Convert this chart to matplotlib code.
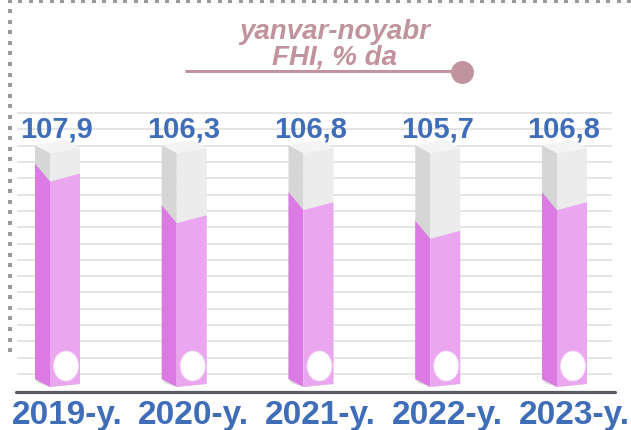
import matplotlib
matplotlib.use("Agg")
import matplotlib.pyplot as plt
from matplotlib.patches import Polygon, Ellipse
import numpy as np

# data
years = ["2019-y.", "2020-y.", "2021-y.", "2022-y.", "2023-y."]
values = [107.9, 106.3, 106.8, 105.7, 106.8]
value_labels = ["107,9", "106,3", "106,8", "105,7", "106,8"]
title_lines = ["yanvar-noyabr", "FHI, % da"]

BASE = 100.0   # bottom of the glass boxes
TOP = 109.0    # top of the glass boxes

W, H = 631, 431
fig = plt.figure(figsize=(W / 100, H / 100), dpi=100)
ax = fig.add_axes([0, 0, 1, 1])
ax.set_xlim(-0.5128, 4.4655)
ax.set_ylim(98.346, 114.923)
ax.axis("off")

# size of one pixel in data units
px = (4.4655 + 0.5128) / W
py = (114.923 - 98.346) / H

blue = "#3F6DB8"
rose = "#C0939E"

# grid lines
grid_y = BASE + 13 * py + np.arange(17) * 16.3 * py
ax.hlines(grid_y, -48 * px, 547 * px, color="#E2E2E2", lw=1.3, zorder=1)

# base line
ax.hlines(BASE - 5 * py, -49 * px, 550 * px, color="#5A5A63", lw=2.3, zorder=2,
          capstyle="round")


def box(i, v):
    xl, xf, xr = i - 30 * px, i - 15 * px, i + 15 * px
    polys = [
        # shadow under the left side
        ([(xl, BASE + 8 * py), (xf, BASE), (xf + 4 * px, BASE - 1 * py),
          (xl + 3 * px, BASE + 4 * py)], "#DADADA"),
        # left side, gray then pink
        ([(xl, BASE + 8 * py), (xf, BASE), (xf, TOP), (xl, TOP + 8 * py)], "#D6D6D6"),
        ([(xl, BASE + 8 * py), (xf, BASE), (xf, v), (xl, v + 18 * py)], "#DB7AE3"),
        # front, gray then pink
        ([(xf, BASE), (xr, BASE + 3 * py), (xr, TOP + 5 * py), (xf, TOP)], "#ECECEC"),
        ([(xf, BASE), (xr, BASE + 3 * py), (xr, v + 8 * py), (xf, v)], "#EAA7F0"),
        # top
        ([(xf, TOP), (xl, TOP + 8 * py), (i, TOP + 13 * py), (xr, TOP + 5 * py)], "#F4F4F4"),
    ]
    for pts, c in polys:
        ax.add_patch(Polygon(pts, closed=True, facecolor=c, edgecolor="none", zorder=3))
    ax.add_patch(Ellipse((i + 1 * px, BASE + 21 * py), 25 * px, 30 * py,
                         facecolor="white", edgecolor="#F3D6F5", lw=0.6, zorder=4))


for i, v in enumerate(values):
    box(i, v)
    ax.text(i - 8 * px, BASE + 250 * py, value_labels[i], ha="center", va="baseline",
            fontsize=21, fontweight="bold", color=blue, family="Liberation Sans",
            zorder=5)
    ax.text(i + 2 * px, BASE - 36 * py, years[i], ha="center", va="baseline",
            fontsize=24, fontweight="bold", color=blue, family="Liberation Sans", zorder=5)

# title with the rose line and dot
ax.text(270 * px, BASE + 349 * py, title_lines[0], ha="center", va="baseline",
        fontsize=20, fontweight="bold", style="italic", color=rose, family="Liberation Sans")
ax.text(270 * px, BASE + 323 * py, title_lines[1], ha="center", va="baseline",
        fontsize=20, fontweight="bold", style="italic", color=rose, family="Liberation Sans")
ax.plot([120 * px, 397 * px], [BASE + 316 * py] * 2, color=rose, lw=2.2,
        solid_capstyle="butt", zorder=5)
ax.plot([397 * px], [BASE + 315 * py], "o", color=rose, ms=15.5, zorder=5)

# dotted frame, top and left
top_x = np.arange(9.5, W, 10.5)
left_y = np.arange(12, 356, 10.6)
fig.lines.append(plt.Line2D(top_x / W, np.full(len(top_x), 1 - 1.8 / H), ls="none",
                            marker="s", ms=2.2, color="#9A9A9A", mew=0,
                            transform=fig.transFigure))
fig.lines.append(plt.Line2D(np.full(len(left_y), 9.5 / W), 1 - left_y / H, ls="none",
                            marker="s", ms=2.2, color="#9A9A9A", mew=0,
                            transform=fig.transFigure))

fig.savefig("out.png", dpi=100)
